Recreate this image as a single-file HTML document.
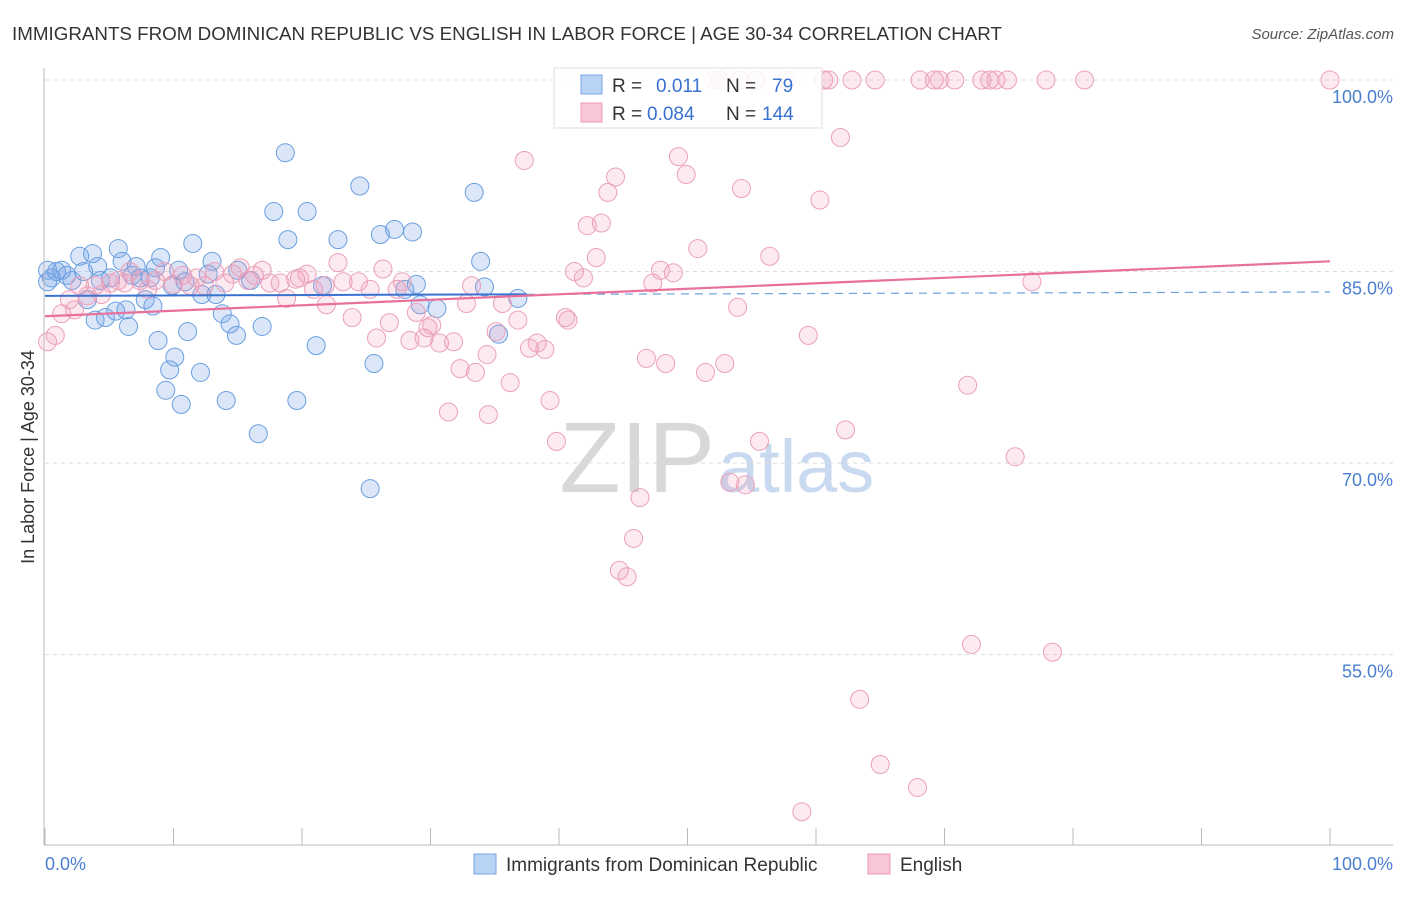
<!DOCTYPE html>
<html><head><meta charset="utf-8"><style>
body{margin:0;background:#fff;font-family:"Liberation Sans",sans-serif;}
svg text{font-family:"Liberation Sans",sans-serif;}
</style></head><body>
<svg id="c" width="1406" height="892">
<text x="12" y="40" font-size="18" fill="#333" textLength="990" lengthAdjust="spacingAndGlyphs">IMMIGRANTS FROM DOMINICAN REPUBLIC VS ENGLISH IN LABOR FORCE | AGE 30-34 CORRELATION CHART</text>
<text x="1394" y="39" font-size="15" fill="#555" text-anchor="end" font-style="italic">Source: ZipAtlas.com</text>
<text x="715" y="492" font-size="100" fill="#d8d8d8" text-anchor="end" font-family="Liberation Serif">ZIP</text>
<text x="718" y="492" font-size="74" fill="#c9daf0">atlas</text>
<text x="34" y="457" font-size="18" fill="#333" text-anchor="middle" transform="rotate(-90 34 457)">In Labor Force | Age 30-34</text>
<g id="grid"></g><g id="pts"></g><g id="trend"></g>
<line x1="44" y1="68" x2="44" y2="845" stroke="#bbb"/>
<line x1="44" y1="845" x2="1393" y2="845" stroke="#bbb"/>
<g id="ticks"></g>
<text x="45" y="870" font-size="18" fill="#4a7fd0">0.0%</text>
<text x="1393" y="870" font-size="18" fill="#4a7fd0" text-anchor="end">100.0%</text>
<g>
<rect x="554" y="68" width="268" height="60" fill="#fff" fill-opacity="0.85" stroke="#ddd"/>
<rect x="581" y="75" width="21" height="19" fill="#b9d3f5" stroke="#7aa6e5"/>
<rect x="581" y="103" width="21" height="19" fill="#f8c6d5" stroke="#ee9ab6"/>
<text x="612" y="92" font-size="19" fill="#333">R = </text><text x="656" y="92" font-size="19" fill="#3a72d0">0.011</text>
<text x="726" y="92" font-size="19" fill="#333">N = </text><text x="772" y="92" font-size="19" fill="#3a72d0">79</text>
<text x="612" y="120" font-size="19" fill="#333">R = </text><text x="647" y="120" font-size="19" fill="#3a72d0">0.084</text>
<text x="726" y="120" font-size="19" fill="#333">N = </text><text x="762" y="120" font-size="19" fill="#3a72d0">144</text>
</g>
<g>
<rect x="474" y="854" width="22" height="20" fill="#b9d3f5" stroke="#7aa6e5"/>
<text x="506" y="871" font-size="19" fill="#333">Immigrants from Dominican Republic</text>
<rect x="868" y="854" width="22" height="20" fill="#f8c6d5" stroke="#ee9ab6"/>
<text x="900" y="871" font-size="19" fill="#333">English</text>
</g>
</svg>
<script>
const yTicks=[100,85,70,55];
const yTickLabels=["100.0%","85.0%","70.0%","55.0%"];
const blueX=[0.2,0.5,0.9,1.3,1.7,2.1,2.7,3.0,3.3,3.7,3.9,4.1,4.7,5.1,5.5,5.7,6.0,6.3,6.5,6.8,7.1,7.4,7.8,8.2,8.4,8.6,8.8,9.0,9.4,9.7,9.9,10.1,10.4,10.6,10.9,11.1,11.5,12.1,12.2,12.7,13.0,13.3,13.8,14.1,14.4,14.9,15.0,16.0,16.6,16.9,17.8,18.7,18.9,19.6,20.4,21.1,21.6,22.8,24.5,25.3,25.6,26.1,27.2,28.0,28.6,28.9,29.2,30.5,33.4,33.9,34.2,35.3,36.8,0.2,4.3];
const blueY=[85.1,84.5,85.0,85.1,84.7,84.3,86.2,85.0,82.8,86.4,81.2,85.4,81.4,84.5,81.9,86.8,85.8,82.0,80.7,84.7,85.4,84.5,82.8,84.5,82.3,85.3,79.6,86.1,75.7,77.3,83.9,78.3,85.1,74.6,84.2,80.3,87.2,77.1,83.2,84.8,85.8,83.2,81.7,74.9,80.9,80.0,85.1,84.3,72.3,80.7,89.7,94.3,87.5,74.9,89.7,79.2,83.9,87.5,91.7,68.0,77.8,87.9,88.3,83.6,88.1,84.0,82.4,82.1,91.2,85.8,83.8,80.1,82.9,84.2,84.3];
const pinkX=[52.1,52.5,54.1,55.3,57.7,60.6,61.0,62.8,64.6,68.1,69.2,69.6,70.8,72.9,73.5,74.0,74.9,77.9,80.9,100,
0.2,0.8,1.3,1.9,2.3,2.7,3.3,3.9,4.4,5.1,5.7,6.2,6.6,7.4,8.0,8.6,9.3,10.0,10.7,11.3,11.8,12.4,13.2,14.0,14.6,15.2,15.8,16.3,16.9,17.5,18.3,18.8,19.5,19.8,20.4,20.9,21.8,21.9,22.8,23.2,23.9,24.4,25.3,25.8,26.3,26.8,27.4,27.8,28.4,28.9,29.5,29.8,30.1,30.7,31.4,31.8,32.3,32.8,33.2,33.5,34.4,34.5,35.1,35.6,36.2,36.8,37.3,37.7,38.3,38.9,39.3,39.8,40.5,40.7,41.2,41.9,42.2,42.9,43.3,43.8,44.4,44.7,45.3,45.8,46.3,46.8,47.3,47.9,48.3,48.9,49.3,49.9,50.8,51.4,52.9,53.3,53.9,54.5,54.2,55.6,56.4,59.4,60.3,61.9,62.3,63.4,65.0,67.9,71.8,72.1,75.5,76.8,78.4,58.9];
const pinkY=[100,100,100,100,100,100,100,100,100,100,100,100,100,100,100,100,100,100,100,100,
79.5,80.0,81.7,82.8,82.0,83.9,83.1,83.9,83.2,84.1,84.3,84.1,85.0,84.3,83.6,84.3,85.0,84.0,84.7,83.9,84.5,83.9,85.0,84.1,84.8,85.3,84.3,84.7,85.1,84.1,84.1,82.9,84.4,84.5,84.8,83.6,83.9,82.4,85.7,84.2,81.4,84.2,83.6,79.8,85.2,81.0,83.6,84.2,79.6,81.8,79.8,80.6,80.8,79.4,74.0,79.5,77.4,82.5,83.9,77.1,78.5,73.8,80.3,82.5,76.3,81.2,93.7,79.0,79.4,78.9,74.9,71.7,81.4,81.2,85.0,84.5,88.6,86.1,88.8,91.2,92.4,61.6,61.1,64.1,67.3,78.2,84.1,85.1,77.8,84.9,94.0,92.6,86.8,77.1,77.8,68.5,82.2,68.3,91.5,71.7,86.2,80.0,90.6,95.5,72.6,51.5,46.4,44.6,76.1,55.8,70.5,84.2,55.2,42.7];
const blueTrend=[83.1,83.4];const pinkTrend=[81.5,85.8];
const xs=v=>45+v*12.85, ys=v=>80+(100-v)*12.77;
const NS="http://www.w3.org/2000/svg";
function mk(t,a,p){const e=document.createElementNS(NS,t);for(const k in a)e.setAttribute(k,a[k]);p.appendChild(e);return e;}
const g=document.getElementById('grid');
yTicks.forEach((t,i)=>{const l=mk('line',{x1:45,x2:1393,y1:ys(t),y2:ys(t),stroke:'#ddd','stroke-dasharray':'4,4'},g);


const tx=mk('text',{x:1393,y:ys(t)+23,'font-size':18,fill:'#4a7fd0','text-anchor':'end'},g);tx.textContent=yTickLabels[i];

});
const tk=document.getElementById('ticks');
for(let i=0;i<=10;i++){const l=mk('line',{x1:xs(i*10),x2:xs(i*10),y1:828,y2:845,stroke:'#bbb'},tk);

}
const P=document.getElementById('pts');
blueX.forEach((x,i)=>{const c=mk('circle',{cx:xs(x),cy:ys(blueY[i]),r:9,fill:'rgba(110,160,230,0.25)',stroke:'#6a9fe0','stroke-width':1},P);

});
pinkX.forEach((x,i)=>{const c=mk('circle',{cx:xs(x),cy:ys(pinkY[i]),r:9,fill:'rgba(240,150,180,0.2)',stroke:'#eba0ba','stroke-width':1},P);

});
const T=document.getElementById('trend');
const bm=blueTrend[0]+(blueTrend[1]-blueTrend[0])*0.375;
let l=mk('line',{x1:xs(0),y1:ys(blueTrend[0]),x2:xs(37.5),y2:ys(bm),stroke:'#3a72d0','stroke-width':2},T);


l=mk('line',{x1:xs(37.5),y1:ys(bm),x2:xs(100),y2:ys(blueTrend[1]),stroke:'#6a9fe0','stroke-width':1.2,'stroke-dasharray':'8,6'},T);


l=mk('line',{x1:xs(0),y1:ys(pinkTrend[0]),x2:xs(100),y2:ys(pinkTrend[1]),stroke:'#e8709a','stroke-width':2.2},T);


</script>
</body></html>
